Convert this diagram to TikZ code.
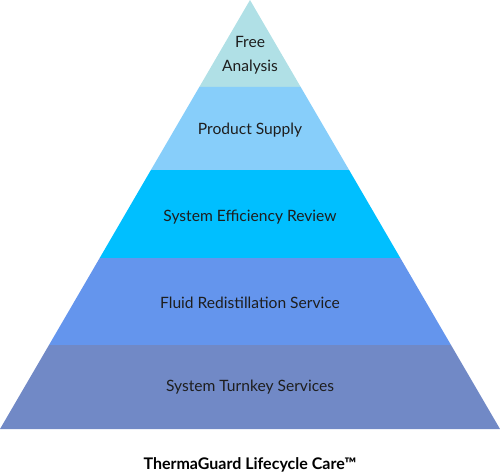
\documentclass[tikz,border=0pt]{standalone}
\usepackage{fontspec}
\setmainfont{Lato}
\definecolor{tierone}{HTML}{B0E0E6}
\definecolor{tiertwo}{HTML}{87CEFA}
\definecolor{tierthree}{HTML}{00BFFF}
\definecolor{tierfour}{HTML}{6495ED}
\definecolor{tierfive}{HTML}{7189C6}
\definecolor{labeltext}{HTML}{1E1E1E}
\begin{document}
\begin{tikzpicture}[x=1pt,y=1pt,font=\fontsize{15.6}{19}\selectfont,
  tierlabel/.style={text=labeltext,align=center,inner sep=0pt}]
  \useasboundingbox (0,0) rectangle (500,475);
  % pyramid tiers, top to bottom
  \fill[tierone] (250,475) -- (199.3,388) -- (300.7,388) -- cycle;
  \fill[tiertwo] (199.3,388) -- (150.9,305) -- (349.1,305) -- (300.7,388) -- cycle;
  \fill[tierthree] (150.9,305) -- (99.7,217) -- (400.3,217) -- (349.1,305) -- cycle;
  \fill[tierfour] (99.7,217) -- (49,130) -- (451,130) -- (400.3,217) -- cycle;
  \fill[tierfive] (49,130) -- (0,46) -- (500,46) -- (451,130) -- cycle;
  \node[tierlabel] (free) at (250,420) {Free\\[5pt]Analysis};
  \node[tierlabel] (supply) at (250,345) {Product Supply};
  \node[tierlabel] (review) at (250,258) {System Efficiency Review};
  \node[tierlabel] (redistil) at (250,172) {Fluid Redistillation Service};
  \node[tierlabel] (turnkey) at (250,88) {System Turnkey Services};
  \node[tierlabel,font=\fontsize{16}{19}\selectfont\bfseries,text=black] (title) at (250,10) {ThermaGuard Lifecycle Care™};
\end{tikzpicture}
\end{document}
